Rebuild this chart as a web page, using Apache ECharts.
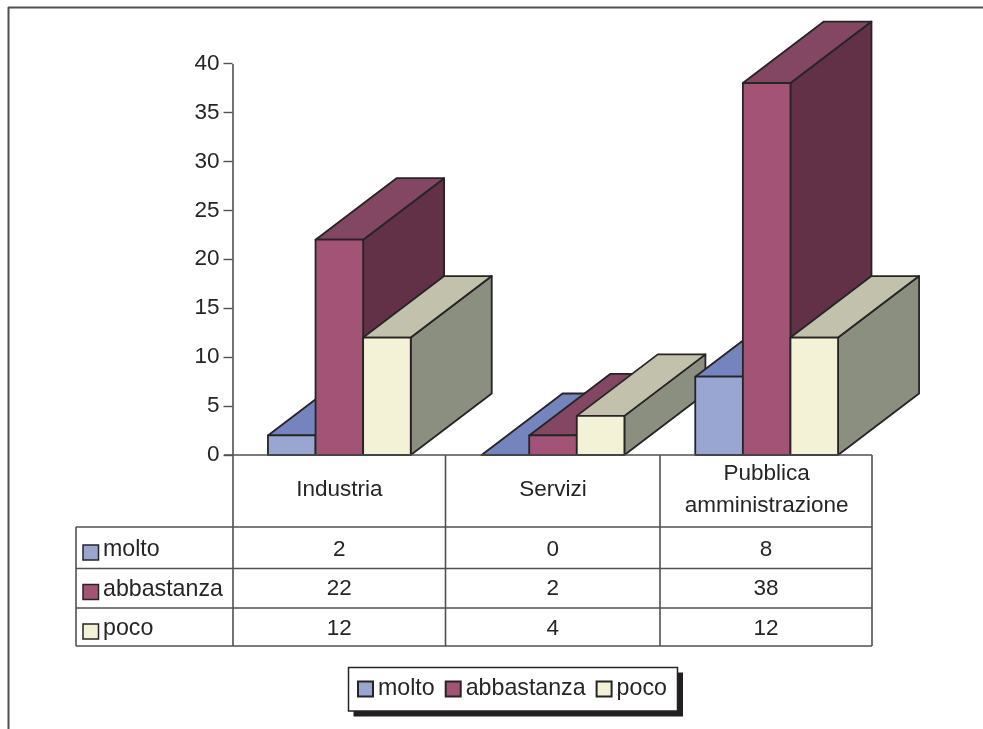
<!DOCTYPE html>
<html>
<head>
<meta charset="utf-8">
<style>
  html, body { margin: 0; padding: 0; background: #fff; }
  #chart { width: 983px; height: 729px; }
</style>
<script src="https://cdn.jsdelivr.net/npm/echarts@6/dist/echarts.min.js"></script>
</head>
<body>
<div id="chart"></div>
<script>
// Survey answers per sector
const categories = ['Industria', 'Servizi', 'Pubblica\namministrazione'];
const seriesNames = ['molto', 'abbastanza', 'poco'];
const molto = [2, 0, 8];
const abbastanza = [22, 2, 38];
const poco = [12, 4, 12];
const yTicks = { min: 0, max: 40, interval: 5 };

// Face colours of each box: front, top, side
const faces = [
  { front: '#99A6D2', top: '#7484BF', side: '#4F5C8C' },
  { front: '#A25376', top: '#834663', side: '#623148' },
  { front: '#F3F2D6', top: '#C2C1AC', side: '#8A8F80' }
];
const seriesValues = [molto, abbastanza, poco];

const INK = '#272425';
const LINE = '#505050';
const FONT = '"Liberation Sans", Arial, sans-serif';
const FS = 22.5;
const FS_KEY = 23.2;

const grid = { left: 232.5, top: 63.5, width: 641, height: 391.5 };
const barWidth = 47.6;     // width of one box front
const depthX = 81;         // oblique projection of the box depth
const depthY = 61.5;

// Table geometry below the plot
const tableLeft = 76;
const colEdges = [233, 445.5, 660, 872];
const baseY = 455;
const rowLines = [527, 568.5, 608, 646];
const rowTextY = [549.5, 588.5, 628.5];
const rowLabelY = [550, 590, 629];
const keyY = [545, 584.5, 624];

// An oblique box: side and top faces first, then the front
function boxItem(seriesIndex) {
  return function (params, api) {
    const catIdx = api.value(0);
    const base = api.coord([catIdx, 0]);
    const head = api.coord([catIdx, api.value(1)]);
    const x0 = base[0] + (seriesIndex - 1.5) * barWidth;
    const x1 = x0 + barWidth;
    const y0 = base[1];
    const y1 = head[1];
    const c = faces[seriesIndex];
    const z = catIdx * 10 + seriesIndex;
    const lineStyle = { stroke: INK, lineWidth: 1.8, lineJoin: 'round' };
    const poly = (points, fill) => ({
      type: 'polygon',
      z2: z,
      shape: { points },
      style: Object.assign({ fill }, lineStyle)
    });
    return {
      type: 'group',
      children: [
        poly([[x1, y1], [x1 + depthX, y1 - depthY], [x1 + depthX, y0 - depthY], [x1, y0]], c.side),
        poly([[x0, y1], [x0 + depthX, y1 - depthY], [x1 + depthX, y1 - depthY], [x1, y1]], c.top),
        poly([[x0, y0], [x0, y1], [x1, y1], [x1, y0]], c.front)
      ]
    };
  };
}

// Page frame, data table lines and texts, legend box
function tableGraphics() {
  const items = [];
  const right = colEdges[colEdges.length - 1];
  const seg = (x1, y1, x2, y2, w) => items.push({
    type: 'line', silent: true, z: 3,
    shape: { x1, y1, x2, y2 },
    style: { stroke: LINE, lineWidth: w || 1.6 }
  });
  // outer frame of the page: only top and left edges are visible
  seg(8, 7.5, 983, 7.5, 2);
  seg(8.5, 7, 8.5, 729, 2);

  seg(224, baseY, right, baseY);
  rowLines.forEach(y => seg(tableLeft, y, right, y));
  seg(tableLeft, rowLines[0], tableLeft, rowLines[3]);
  seg(colEdges[0], 64, colEdges[0], rowLines[3]);
  colEdges.slice(1).forEach(x => seg(x, baseY, x, rowLines[3]));

  seriesNames.forEach((name, r) => {
    items.push({
      type: 'rect', silent: true, z: 3,
      shape: { x: 83, y: keyY[r], width: 15.5, height: 15 },
      style: { fill: faces[r].front, stroke: INK, lineWidth: 1.5 }
    });
    items.push({
      type: 'text', silent: true, z: 3, x: 103, y: rowLabelY[r],
      style: { text: name, font: FS_KEY + 'px ' + FONT, fill: INK, verticalAlign: 'middle' }
    });
    seriesValues[r].forEach((v, c) => {
      items.push({
        type: 'text', silent: true, z: 3,
        x: (colEdges[c] + colEdges[c + 1]) / 2, y: rowTextY[r],
        style: { text: String(v), font: FS + 'px ' + FONT, fill: INK, align: 'center', verticalAlign: 'middle' }
      });
    });
  });

  // legend backing: hard drop shadow, then the white box
  items.push({
    type: 'rect', silent: true, z: 1,
    shape: { x: 353.5, y: 672.5, width: 329.5, height: 44 },
    style: { fill: '#231F20' }
  });
  items.push({
    type: 'rect', silent: true, z: 1,
    shape: { x: 348.5, y: 667.5, width: 329, height: 43.5 },
    style: { fill: '#fff', stroke: INK, lineWidth: 1.5 }
  });
  return items;
}

const chart = echarts.init(document.getElementById('chart'), null, { renderer: 'canvas' });
chart.setOption({
  animation: false,
  backgroundColor: '#fff',
  grid: Object.assign({ containLabel: false }, grid),
  legend: {
    left: 348,
    top: 667.5,
    padding: [10, 11, 10, 9],
    data: seriesNames,
    itemWidth: 15,
    itemHeight: 15,
    itemGap: 10,
    icon: 'rect',
    selectedMode: false,
    textStyle: { fontFamily: FONT, fontSize: FS_KEY, color: INK }
  },
  xAxis: {
    type: 'category',
    data: categories,
    boundaryGap: true,
    axisLine: { show: false },
    axisTick: { show: false },
    axisLabel: {
      interval: 0,
      margin: 34.5,
      color: INK,
      fontFamily: FONT,
      fontSize: FS,
      lineHeight: 32,
      verticalAlign: 'middle'
    }
  },
  yAxis: {
    type: 'value',
    min: yTicks.min,
    max: yTicks.max,
    interval: yTicks.interval,
    splitLine: { show: false },
    axisLine: { show: false },
    axisTick: { show: true, length: 9, lineStyle: { color: LINE, width: 1.4 } },
    axisLabel: { margin: 13, color: INK, fontFamily: FONT, fontSize: FS, padding: [5, 0, 0, 0] }
  },
  series: seriesNames.map((name, s) => ({
    type: 'custom',
    name,
    coordinateSystem: 'cartesian2d',
    itemStyle: { color: faces[s].front, borderColor: INK, borderWidth: 1.4 },
    renderItem: boxItem(s),
    clip: false,
    encode: { x: 0, y: 1 },
    data: seriesValues[s].map((v, c) => [c, v]),
    silent: true
  })),
  graphic: tableGraphics()
});
</script>
</body>
</html>
